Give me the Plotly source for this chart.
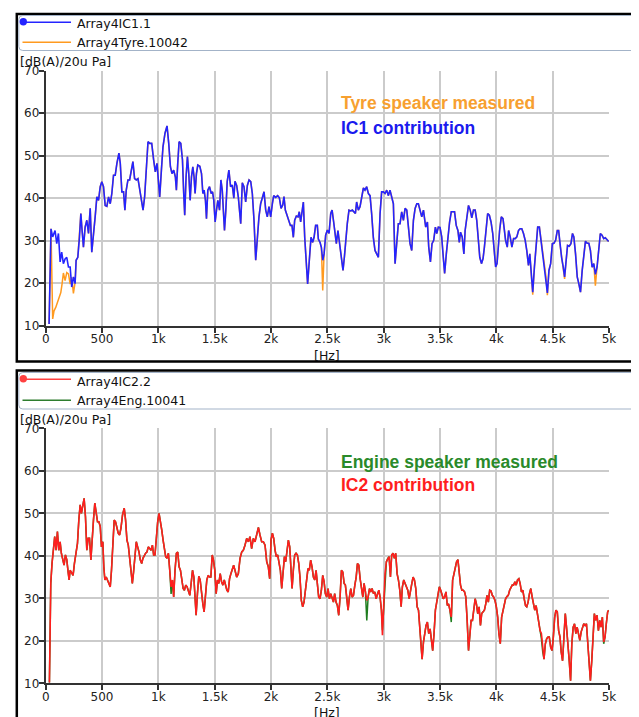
import plotly.graph_objects as go

# The page body keeps its default 8 px margin, so the figure is placed 8 px
# right and down in the window; the figure is sized to end at the window edge.
W, H = 631, 709
OFF = 8

# ---------------- data ----------------
FREQ_TICKS = [0, 500, 1000, 1500, 2000, 2500, 3000, 3500, 4000, 4500, 5000]
FREQ_TICK_TEXT = ["0", "500", "1k", "1.5k", "2k", "2.5k", "3k", "3.5k", "4k", "4.5k", "5k"]
LEVEL_TICKS = [10, 20, 30, 40, 50, 60, 70]

# Top panel: Array4IC1.1 (IC1 contribution)
IC1_HZ = [
    30, 47, 62, 83, 98, 113, 128, 142, 157, 172,
    187, 202, 217, 231, 246, 261, 270, 285, 300, 312,
    323, 335, 350, 365, 380, 395, 409, 424, 439, 454,
    469, 484, 498, 513, 528, 543, 558, 573, 587, 602,
    617, 632, 650, 662, 676, 691, 703, 715, 730, 745,
    760, 774, 789, 804, 819, 834, 849, 864, 878, 893,
    908, 923, 941, 958, 973, 988, 1003, 1012, 1027, 1041,
    1059, 1077, 1092, 1107, 1121, 1136, 1151, 1160, 1172, 1184,
    1199, 1214, 1225, 1234, 1246, 1258, 1270, 1282, 1294, 1306,
    1317, 1326, 1338, 1350, 1368, 1383, 1395, 1406, 1418, 1427,
    1439, 1454, 1469, 1481, 1492, 1504, 1516, 1528, 1543, 1555,
    1567, 1578, 1587, 1599, 1611, 1626, 1641, 1656, 1670,
    1680, 1695, 1710, 1731, 1745, 1760, 1775, 1790, 1805, 1820,
    1834, 1849, 1864, 1879, 1893, 1908, 1923, 1938, 1953, 1967,
    1982, 1997, 2012, 2024, 2041, 2059, 2074, 2089, 2104, 2115,
    2127, 2142, 2157, 2172, 2186, 2198, 2210, 2225, 2240, 2251,
    2263, 2275, 2287, 2299, 2311, 2325, 2340, 2355, 2370, 2382,
    2396, 2411, 2420, 2435, 2447, 2459, 2471, 2485, 2500, 2515,
    2530, 2542, 2556, 2568, 2580, 2594, 2606, 2621, 2639, 2651,
    2663, 2677, 2692, 2707, 2722, 2737, 2749, 2760, 2775, 2790,
    2805, 2820, 2834, 2849, 2864, 2879, 2893, 2908, 2923, 2938,
    2953, 2968, 2982, 2997, 3012, 3027, 3042, 3056, 3071, 3086,
    3101, 3116, 3130, 3145, 3160, 3175, 3190, 3205, 3219, 3234,
    3249, 3264, 3279, 3294, 3308, 3323, 3338, 3353,
    3373, 3388, 3400, 3415, 3429, 3444, 3459, 3471, 3485, 3500,
    3515, 3529, 3541, 3556, 3571, 3585, 3600, 3615, 3629, 3644,
    3659, 3671, 3682, 3697, 3712, 3723, 3738, 3753, 3768, 3782,
    3797, 3812, 3826, 3841, 3853, 3868, 3882, 3894, 3909, 3923,
    3938, 3953, 3968, 3982, 3994, 4006, 4017, 4029, 4044, 4059,
    4070, 4082, 4097, 4109, 4123, 4138, 4153, 4168, 4182, 4197,
    4211, 4226, 4241, 4256, 4270, 4285, 4297, 4311, 4323, 4338,
    4353, 4367, 4382, 4397, 4411, 4426, 4441, 4453, 4467, 4482,
    4497, 4511, 4526, 4541, 4553, 4564, 4579, 4594, 4606, 4617,
    4632, 4647, 4662, 4676, 4688, 4703, 4718, 4732, 4747, 4762,
    4776, 4791, 4806, 4821, 4835, 4850, 4865, 4879, 4894, 4909,
    4923, 4938, 4953, 4967, 4982, 4997,
]
IC1_DB = [
    10.4, 32.8, 30.9, 32.4, 29.3, 31.7, 25.0, 27.3, 24.6, 25.7,
    26.1, 23.8, 23.8, 19.1, 21.5, 19.9, 25.4, 26.1, 30.9, 36.4,
    32.4, 28.5, 33.2, 34.8, 31.7, 37.6, 27.3, 30.9, 35.6, 40.3,
    39.5, 42.7, 43.9, 42.7, 38.3, 38.1, 40.3, 38.7, 41.1, 45.4,
    45.4, 48.2, 50.6, 48.2, 41.5, 41.5, 37.2, 41.9, 44.3, 44.3,
    46.6, 48.6, 44.6, 44.3, 44.6, 41.9, 39.5, 37.2, 40.3, 46.6,
    53.3, 52.9, 52.9, 49.0, 46.2, 48.2, 44.3, 40.3, 46.6, 52.1,
    55.3, 57.0, 52.9, 47.4, 45.8, 46.6, 45.0, 41.9, 48.2, 53.3,
    52.9, 49.0, 41.1, 36.0, 45.0, 49.8, 45.8, 39.5, 45.0, 47.4,
    45.0, 41.1, 45.8, 47.8, 47.5, 45.8, 41.1, 41.9, 39.5, 35.2,
    41.9, 42.7, 41.1, 41.5, 39.5, 34.4, 37.2, 39.5, 37.2, 44.3,
    41.9, 37.2, 32.4, 37.2, 43.9, 46.6, 42.7, 43.1, 40.0,
    44.0, 43.0, 40.2, 34.0, 43.6, 42.7, 39.1, 43.0, 44.3, 43.9,
    41.1, 34.8, 25.4, 31.7, 35.6, 38.7, 40.0, 41.5, 37.2, 35.6,
    38.0, 35.6, 38.7, 40.6, 40.2, 40.6, 40.1, 37.6, 38.4, 40.4,
    37.2, 36.0, 34.8, 33.6, 33.6, 30.8, 34.8, 35.8, 35.6, 36.8,
    34.4, 37.2, 39.1, 30.8, 26.1, 19.8, 25.4, 30.8, 29.6, 30.8,
    33.6, 33.6, 30.4, 29.6, 28.4, 25.4, 26.9, 31.3, 32.5, 31.7,
    36.4, 37.2, 34.4, 31.7, 29.3, 32.4, 30.0, 26.1, 23.0, 26.1,
    30.8, 34.0, 37.2, 37.0, 37.2, 36.8, 36.4, 39.1, 37.2, 38.0,
    40.6, 42.4, 41.9, 42.7, 41.1, 40.6, 36.4, 30.8, 27.7, 26.9,
    26.1, 36.4, 41.5, 41.5, 41.1, 41.9, 40.6, 41.9, 40.0, 38.7,
    24.6, 30.0, 34.0, 34.0, 36.8, 34.8, 37.6, 37.2, 34.0, 29.3,
    27.7, 34.8, 37.6, 38.7, 38.7, 37.2, 35.6, 37.2,
    33.2, 34.4, 28.5, 25.0, 29.3, 30.1, 33.2, 31.7, 33.2, 33.1,
    30.9, 26.1, 22.3, 26.9, 31.7, 34.4, 36.8, 36.8, 36.8, 33.6,
    32.4, 29.6, 32.0, 30.9, 26.9, 32.4, 35.6, 38.3, 37.2, 35.4,
    37.2, 37.2, 34.8, 30.1, 26.1, 24.6, 25.8, 28.5, 33.2, 36.4,
    36.0, 34.4, 31.7, 26.9, 23.8, 24.6, 28.5, 32.4, 35.6, 35.2,
    32.8, 30.1, 28.5, 32.4, 30.9, 28.5, 30.5, 30.5, 30.9, 32.4,
    32.8, 32.8, 31.7, 30.1, 27.7, 24.2, 26.9, 22.1, 17.9, 23.8,
    29.3, 33.2, 33.2, 30.1, 27.7, 24.6, 21.5, 17.7, 23.0, 24.6,
    29.3, 29.4, 30.1, 32.4, 32.4, 29.3, 26.1, 23.8, 21.5, 24.6,
    28.9, 28.7, 29.3, 31.7, 30.9, 26.9, 21.5, 19.9, 17.9, 23.0,
    26.9, 29.9, 29.4, 29.4, 27.7, 23.8, 24.6, 22.1, 23.8, 27.7,
    31.7, 31.3, 30.5, 30.7, 30.1, 29.8,
]

# Top panel: Array4Tyre.10042 (Tyre speaker measured) - low-frequency part,
# above 270 Hz it follows the IC1 curve except for the dips listed below.
TYRE_LOW_HZ = [30, 47, 62, 74, 89, 104, 119, 134, 145, 157, 172, 187, 202, 217, 231, 246, 261]
TYRE_LOW_DB = [10.4, 32.8, 11.6, 13.5, 14.3, 15.5, 16.7, 17.8, 19.8, 22.4, 20.6, 22.5, 22.2, 19.8, 21.4, 17.6, 20.2]
TYRE_DIP_HZ = [2459, 4323, 4453, 4606, 4879]
TYRE_DIP_DB = [18.3, 17.3, 17.2, 21.0, 19.4]

# Bottom panel: Array4IC2.2 (IC2 contribution)
IC2_HZ = [
    33, 45, 56, 68, 80, 92, 104, 116, 128, 139,
    151, 163, 175, 187, 199, 208, 217, 231, 243, 255,
    270, 282, 294, 306, 317, 329, 341, 353, 365, 377,
    389, 401, 412, 424, 436, 448, 460, 472, 484, 495,
    507, 516, 525, 537, 549, 561, 573, 584, 596, 608,
    620, 632, 644, 656, 668, 682, 697, 709, 721, 733,
    745, 757, 769, 780, 792, 804, 816, 828, 840, 852,
    863, 875, 887, 899, 911, 923, 935, 947, 958, 970,
    982, 994, 1006, 1018, 1030, 1042, 1053, 1065, 1077, 1089,
    1101, 1113, 1125, 1136, 1148, 1160, 1172, 1184, 1196, 1208,
    1220, 1231, 1243, 1255, 1267, 1279, 1291, 1303, 1315, 1326,
    1335, 1347, 1359, 1371, 1383, 1395, 1406, 1418, 1430, 1442,
    1454, 1466, 1478, 1489, 1501, 1513, 1525, 1537, 1549, 1561,
    1573, 1585, 1597, 1608, 1620, 1632, 1644, 1656, 1668,
    1680, 1695, 1710, 1725, 1740, 1754, 1769, 1784, 1799, 1813,
    1828, 1843, 1858, 1873, 1888, 1902, 1917, 1932, 1947, 1962,
    1976, 1988, 2000, 2012, 2024, 2036, 2047, 2059, 2071, 2083,
    2095, 2107, 2119, 2130, 2142, 2154, 2166, 2178, 2187, 2198,
    2210, 2222, 2234, 2246, 2257, 2269, 2281, 2293, 2305, 2317,
    2328, 2340, 2352, 2364, 2376, 2388, 2400, 2411, 2423, 2435,
    2447, 2459, 2471, 2482, 2494, 2506, 2518, 2530, 2542, 2554,
    2565, 2577, 2589, 2601, 2613, 2625, 2637, 2649, 2660, 2672,
    2684, 2696, 2708, 2720, 2732, 2744, 2756, 2767, 2779, 2791,
    2803, 2815, 2826, 2838, 2850, 2862, 2874, 2885, 2897, 2909,
    2921, 2933, 2945, 2957, 2968, 2980, 2989, 3001, 3012, 3024,
    3036, 3048, 3060, 3071, 3083, 3095, 3107, 3119, 3131, 3143,
    3155, 3166, 3178, 3190, 3202, 3214, 3226, 3238, 3250, 3261,
    3273, 3285, 3297, 3309, 3321,
    3341, 3353, 3365, 3376, 3388, 3400, 3412, 3424, 3435, 3447,
    3459, 3471, 3482, 3494, 3506, 3518, 3529, 3541, 3553, 3565,
    3576, 3588, 3600, 3612, 3623, 3635, 3647, 3659, 3670, 3682,
    3694, 3706, 3718, 3729, 3741, 3753, 3765, 3776, 3788, 3800,
    3812, 3823, 3835, 3847, 3859, 3870, 3882, 3894, 3906, 3917,
    3929, 3941, 3953, 3964, 3976, 3988, 4000, 4012, 4023, 4035,
    4047, 4059, 4070, 4082, 4094, 4106, 4118, 4129, 4141, 4153,
    4165, 4176, 4188, 4200, 4211, 4223, 4235, 4247, 4259, 4270,
    4282, 4294, 4306, 4318, 4329, 4341, 4353, 4365, 4376, 4388,
    4400, 4412, 4423, 4435, 4447, 4459, 4470, 4482, 4494, 4506,
    4518, 4529, 4541, 4553, 4565, 4576, 4588, 4600, 4612, 4623,
    4635, 4647, 4659, 4670, 4682, 4694, 4706, 4717, 4729, 4741,
    4753, 4764, 4776, 4788, 4800, 4812, 4823, 4835, 4847, 4859,
    4870, 4882, 4894, 4906, 4918, 4929, 4941, 4953, 4965, 4976,
    4988, 4997,
]
IC2_DB = [
    10.2, 33.5, 38.2, 41.3, 44.5, 41.3, 45.7, 41.3, 43.3, 40.6,
    39.4, 37.8, 40.2, 39.1, 36.2, 34.3, 36.6, 35.8, 35.4, 38.2,
    41.3, 42.9, 48.4, 52.0, 50.0, 51.6, 53.5, 49.2, 41.3, 44.1,
    44.1, 39.0, 44.5, 48.4, 52.4, 50.4, 48.0, 48.0, 46.9, 42.1,
    43.3, 37.4, 34.3, 35.0, 34.3, 33.5, 32.7, 36.6, 43.3, 48.4,
    48.0, 46.5, 45.3, 44.9, 46.5, 49.6, 51.2, 48.4, 43.7, 42.5,
    39.8, 36.6, 33.5, 36.2, 39.0, 43.3, 42.1, 40.9, 39.0, 38.2,
    39.4, 40.2, 40.6, 40.9, 42.1, 41.7, 41.3, 42.5, 40.2, 40.2,
    45.3, 48.0, 50.0, 48.4, 46.1, 43.7, 41.3, 39.8, 39.4, 40.6,
    36.6, 32.7, 34.3, 30.3, 36.6, 40.6, 40.9, 37.4, 36.6, 34.3,
    32.3, 31.9, 33.1, 32.7, 31.9, 30.7, 33.5, 36.6, 35.0, 28.7,
    26.0, 31.1, 35.2, 34.3, 31.1, 28.7, 26.8, 31.1, 34.3, 35.4,
    35.0, 35.0, 40.2, 39.0, 36.6, 31.1, 34.3, 33.5, 35.8, 33.9,
    33.1, 34.3, 33.1, 31.9, 31.5, 34.6, 35.8, 36.6, 37.8,
    36.6, 35.0, 35.8, 39.4, 40.9, 41.3, 42.5, 44.1, 43.3, 44.5,
    41.7, 44.1, 43.3, 45.3, 46.7, 44.9, 43.3, 43.3, 42.5, 38.6,
    37.4, 34.6, 43.7, 45.3, 44.1, 41.3, 39.8, 40.2, 37.8, 36.6,
    32.3, 37.4, 39.8, 38.6, 40.6, 43.7, 42.1, 36.6, 32.3, 36.6,
    40.2, 40.6, 40.2, 38.2, 35.0, 29.5, 28.0, 29.1, 31.9, 35.8,
    37.0, 36.6, 39.0, 37.4, 35.0, 34.3, 36.6, 33.5, 30.3, 29.9,
    31.9, 35.4, 33.9, 31.1, 30.3, 32.3, 29.9, 31.1, 30.3, 29.1,
    31.1, 29.1, 28.3, 26.0, 30.3, 36.6, 36.2, 33.5, 33.1, 30.3,
    27.2, 30.3, 32.3, 30.3, 30.7, 33.1, 35.0, 38.2, 37.8, 34.6,
    31.9, 30.3, 33.5, 31.5, 29.5, 30.3, 32.3, 31.5, 32.3, 31.1,
    31.5, 29.9, 31.1, 31.9, 30.3, 27.2, 21.3, 28.7, 35.8, 38.6,
    39.4, 39.8, 35.0, 40.2, 40.6, 39.4, 40.6, 35.8, 34.3, 31.9,
    28.0, 32.7, 34.3, 33.5, 32.7, 31.9, 29.9, 32.3, 33.5, 35.0,
    34.3, 32.3, 28.0, 27.2, 23.2,
    15.7, 19.7, 22.4, 23.6, 24.4, 21.7, 22.8, 20.5, 17.7, 21.7,
    27.2, 29.1, 31.5, 32.7, 31.9, 30.7, 29.9, 30.3, 31.5, 28.3,
    28.7, 27.2, 25.6, 34.3, 35.8, 36.6, 38.6, 39.1, 36.6, 33.1,
    31.9, 31.9, 31.5, 30.3, 24.8, 17.7, 21.3, 24.8, 24.8, 27.2,
    29.9, 28.7, 26.4, 28.0, 23.6, 26.4, 26.8, 27.2, 28.7, 30.7,
    29.1, 31.9, 31.7, 30.7, 30.3, 29.5, 28.0, 25.6, 21.7, 19.3,
    25.6, 27.2, 28.7, 29.9, 30.4, 30.7, 31.9, 32.7, 33.1, 33.1,
    33.9, 33.1, 34.3, 34.6, 33.5, 31.5, 31.9, 29.9, 28.3, 28.0,
    29.1, 31.1, 32.3, 30.3, 28.3, 27.2, 28.3, 26.4, 24.8, 22.4,
    21.7, 17.3, 15.7, 19.3, 20.5, 20.9, 20.9, 18.5, 17.7, 20.9,
    25.6, 27.2, 26.8, 22.4, 20.9, 17.3, 15.3, 20.9, 26.4, 23.2,
    20.1, 15.3, 10.6, 19.3, 23.2, 24.0, 21.7, 23.2, 21.7, 20.1,
    22.1, 23.2, 24.0, 23.6, 24.0, 19.3, 15.3, 10.6, 15.3, 22.4,
    26.4, 24.8, 26.0, 22.4, 24.8, 23.2, 25.6, 19.7, 20.9, 24.0,
    26.8, 27.2,
]

# Bottom panel: Array4Eng.10041 (Engine speaker measured) follows IC2
# except at these points where the green curve shows below the red one.
ENG_DIFF_HZ = [1113, 2850, 2989, 3600, 4400, 4953]
ENG_DIFF_DB = [31.0, 24.8, 22.5, 24.4, 20.5, 19.3]

# ---------------- derived series ----------------
tyre_dips = dict(zip(TYRE_DIP_HZ, TYRE_DIP_DB))
tyre_hz = list(TYRE_LOW_HZ)
tyre_db = list(TYRE_LOW_DB)
for f, v in zip(IC1_HZ, IC1_DB):
    if f >= 270:
        tyre_hz.append(f)
        tyre_db.append(tyre_dips.get(f, v))

eng_diff = dict(zip(ENG_DIFF_HZ, ENG_DIFF_DB))
eng_hz = list(IC2_HZ)
eng_db = [eng_diff.get(f, v) for f, v in zip(IC2_HZ, IC2_DB)]

# ---------------- styling ----------------
BLUE = "#2424ff"
ORANGE = "#ff9a1f"
RED = "#ff1e1e"
GREEN = "#1f7d1f"
FONT = "DejaVu Sans"


def px(x):
    """window pixel x -> paper fraction"""
    return (x - OFF) / W


def py(y):
    """window pixel y -> paper fraction"""
    return 1 - (y - OFF) / H


fig = go.Figure()
fig.add_trace(go.Scatter(x=tyre_hz, y=tyre_db, mode="lines", xaxis="x", yaxis="y",
                         line=dict(color=ORANGE, width=1.5), name="Array4Tyre.10042"))
fig.add_trace(go.Scatter(x=IC1_HZ, y=IC1_DB, mode="lines", xaxis="x", yaxis="y",
                         line=dict(color=BLUE, width=1.6), name="Array4IC1.1"))
fig.add_trace(go.Scatter(x=eng_hz, y=eng_db, mode="lines", xaxis="x2", yaxis="y2",
                         line=dict(color=GREEN, width=1.5), name="Array4Eng.10041"))
fig.add_trace(go.Scatter(x=IC2_HZ, y=IC2_DB, mode="lines", xaxis="x2", yaxis="y2",
                         line=dict(color=RED, width=1.6), name="Array4IC2.2"))

x_dom = [px(45.7), px(609)]
top_dom = [py(325.7), py(70.7)]
bot_dom = [py(683.3), py(428.3)]

axis_common = dict(showgrid=True, gridcolor="#cbcbcb", gridwidth=1.5, zeroline=False,
                   showline=True, linecolor="#333333", linewidth=2, automargin=False,
                   ticks="outside", ticklen=5, tickwidth=1.5, tickcolor="#333333",
                   tickfont=dict(family=FONT, size=12, color="#222222"))

fig.update_layout(
    template="none",
    width=W, height=H, autosize=False,
    margin=dict(l=0, r=0, t=0, b=0, pad=0, autoexpand=False),
    paper_bgcolor="white", plot_bgcolor="white",
    showlegend=False,
    xaxis=dict(domain=x_dom, anchor="y", range=[0, 5000], tickvals=FREQ_TICKS,
               ticktext=FREQ_TICK_TEXT, ticklabelstandoff=-4, **axis_common),
    yaxis=dict(domain=top_dom, anchor="x", range=[10, 70], tickvals=LEVEL_TICKS,
               ticklabelstandoff=-3, **axis_common),
    xaxis2=dict(domain=x_dom, anchor="y2", range=[0, 5000], tickvals=FREQ_TICKS,
                ticktext=FREQ_TICK_TEXT, ticklabelstandoff=-4, **axis_common),
    yaxis2=dict(domain=bot_dom, anchor="x2", range=[10, 70], tickvals=LEVEL_TICKS,
                ticklabelstandoff=-3, **axis_common),
)


def rounded_rect(x0, y0, x1, y1, r):
    X0, X1 = px(x0), px(x1)
    Y0, Y1 = py(y0), py(y1)
    rx, ry = r / W, r / H
    return (f"M {X0 + rx},{Y0} L {X1 - rx},{Y0} Q {X1},{Y0} {X1},{Y0 - ry} "
            f"L {X1},{Y1 + ry} Q {X1},{Y1} {X1 - rx},{Y1} L {X0 + rx},{Y1} "
            f"Q {X0},{Y1} {X0},{Y1 + ry} L {X0},{Y0 - ry} Q {X0},{Y0} {X0 + rx},{Y0} Z")


shapes = []
# outer panel frames
shapes.append(dict(type="rect", xref="paper", yref="paper", x0=px(16.8), x1=px(637.8),
                   y0=py(14), y1=py(361.5), line=dict(color="black", width=2.5)))
shapes.append(dict(type="rect", xref="paper", yref="paper", x0=px(16.8), x1=px(637.8),
                   y0=py(370.5), y1=py(730), line=dict(color="black", width=2.5)))
# legend boxes
shapes.append(dict(type="path", xref="paper", yref="paper", path=rounded_rect(18.8, 15.5, 635.5, 50.5, 4),
                   line=dict(color="#a3b3c8", width=1)))
shapes.append(dict(type="path", xref="paper", yref="paper", path=rounded_rect(18.8, 372.5, 635.5, 409, 4),
                   line=dict(color="#a3b3c8", width=1)))

legend_items = [
    (22.2, BLUE, True, "Array4IC1.1", 23.5),
    (42.3, ORANGE, False, "Array4Tyre.10042", 42.8),
    (379.2, "#ff4040", True, "Array4IC2.2", 381.5),
    (400.2, "#2e7d2e", False, "Array4Eng.10041", 400.8),
]
annotations = []
for ly, col, dot, label, ty in legend_items:
    shapes.append(dict(type="line", xref="paper", yref="paper", x0=px(22.5), x1=px(71),
                       y0=py(ly), y1=py(ly), line=dict(color=col, width=1.5)))
    if dot:
        shapes.append(dict(type="circle", xref="paper", yref="paper",
                           x0=px(23.3 - 3.7), x1=px(23.3 + 3.7), y0=py(ly - 0.5 + 3.7), y1=py(ly - 0.5 - 3.7),
                           fillcolor=col, line=dict(color=col, width=0)))
    annotations.append(dict(x=px(75), y=py(ty), xref="paper", yref="paper", text=label,
                            xanchor="left", yanchor="middle", showarrow=False,
                            font=dict(family=FONT, size=12.5, color="#111111")))

# axis unit labels
for yy in (61.7, 419.3):
    annotations.append(dict(x=px(17.5), y=py(yy), xref="paper", yref="paper", text="[dB(A)/20u Pa]",
                            xanchor="left", yanchor="middle", showarrow=False,
                            font=dict(family=FONT, size=12.5, color="#111111")))
for yy in (355, 712.6):
    annotations.append(dict(x=px(327), y=py(yy), xref="paper", yref="paper", text="[Hz]",
                            xanchor="center", yanchor="middle", showarrow=False,
                            font=dict(family=FONT, size=12.5, color="#111111")))

# in-plot captions
captions = [
    (103.3, "Tyre speaker measured", "#f7a030"),
    (127.7, "IC1 contribution", "#1a1aee"),
    (461.7, "Engine speaker measured", "#2a8a2a"),
    (485.0, "IC2 contribution", "#ff1e1e"),
]
for yy, txt, col in captions:
    annotations.append(dict(x=px(339), y=py(yy), xref="paper", yref="paper", text=f"<b>{txt}</b>",
                            xanchor="left", yanchor="middle", showarrow=False,
                            font=dict(family="Liberation Sans", size=17.5, color=col)))

fig.update_layout(shapes=shapes, annotations=annotations)
fig.write_html("out.html")
